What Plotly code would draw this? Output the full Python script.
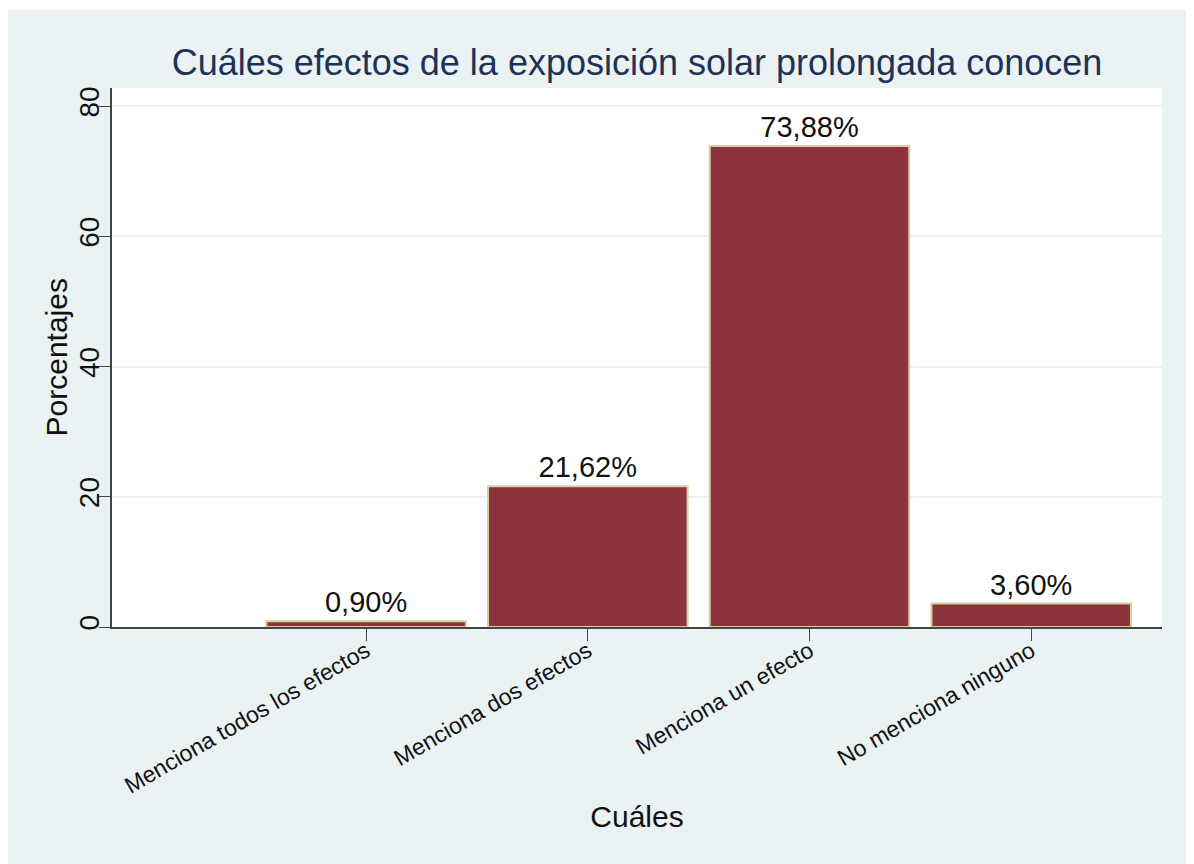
import plotly.graph_objects as go

categories = [
    "Menciona todos los efectos",
    "Menciona dos efectos",
    "Menciona un efecto",
    "No menciona ninguno",
]
porcentajes = [0.90, 21.62, 73.88, 3.60]
y_ticks = [0, 20, 40, 60, 80]

BG = "#eaf2f3"
BAR = "#8c333b"
OUTLINE = "#d8cf9e"
TITLE = "#1e3258"
FONT = "Liberation Sans, Arial, sans-serif"

fig = go.Figure(
    go.Bar(
        x=categories,
        y=porcentajes,
        width=0.9,
        marker=dict(color=BAR, line=dict(color=OUTLINE, width=2)),
        texttemplate="%{y:.2f}%",
        textposition="outside",
        textfont=dict(size=29, color="#111111"),
        cliponaxis=False,
    )
)

# page body adds 8px, so the figure is 8px smaller and margins shifted
fig.update_layout(
    width=1186,
    height=856,
    separators=",.",
    font=dict(family=FONT, size=23, color="#111111"),
    paper_bgcolor="white",
    plot_bgcolor="white",
    margin=dict(l=104, r=32, t=80, b=237),
    showlegend=False,
    title=dict(
        text="Cuáles efectos de la exposición solar prolongada conocen",
        font=dict(size=36, color=TITLE),
        x=0.5,
        xanchor="center",
        xref="paper",
        y=0.937,
        yref="container",
        yanchor="middle",
    ),
    shapes=[
        # outer grey-blue frame, then the white plot region on top of it
        dict(type="rect", xref="paper", yref="paper", x0=-0.1, x1=1.031,
             y0=-0.44, y1=1.145, fillcolor=BG, line=dict(width=0), layer="below"),
        dict(type="rect", xref="paper", yref="paper", x0=0, x1=1,
             y0=0, y1=1, fillcolor="white", line=dict(width=0), layer="below"),
    ],
    annotations=[
        dict(text="Porcentajes", xref="paper", yref="paper", x=-0.0524, y=0.5,
             textangle=-90, showarrow=False, font=dict(size=30),
             xanchor="center", yanchor="middle"),
    ],
)

fig.update_xaxes(
    range=[-1.146, 3.59],
    tickangle=-30,
    ticks="outside",
    ticklen=12,
    tickcolor="#444444",
    tickfont=dict(size=23),
    ticklabelstandoff=-12,
    showline=True,
    linecolor="#444444",
    linewidth=1.5,
    showgrid=False,
    title=dict(text="Cuáles", font=dict(size=30), standoff=9),
)
fig.update_yaxes(
    range=[0, 82.8],
    tickvals=y_ticks,
    tickangle=-90,
    ticks="outside",
    ticklen=11,
    tickcolor="#444444",
    tickfont=dict(size=28),
    ticklabelstandoff=-11,
    showline=True,
    linecolor="#444444",
    linewidth=1.5,
    showgrid=True,
    gridcolor=BG,
    gridwidth=2,
    zeroline=False,
)

fig.write_html("out.html")
